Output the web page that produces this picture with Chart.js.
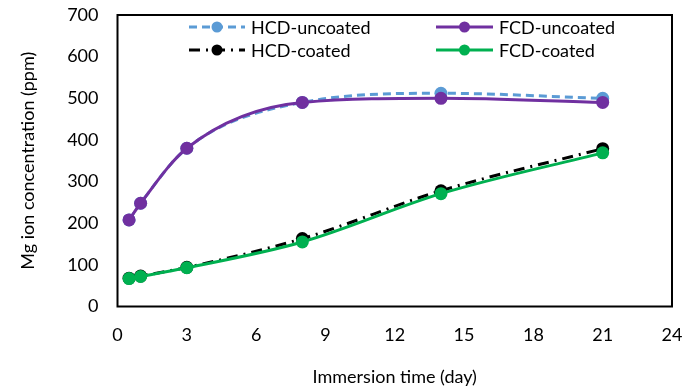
<!DOCTYPE html>
<html>
<head>
<meta charset="utf-8">
<script src="https://cdn.jsdelivr.net/npm/chart.js@4"></script>
<style>
  html, body { margin: 0; padding: 0; background: #fff; }
  #wrap { width: 685px; height: 388px; }
</style>
</head>
<body>
<div id="wrap"><canvas id="grafico" width="685" height="388"></canvas></div>
<script>
// values
const days = [0.5, 1, 3, 8, 14, 21];
const hcdUncoated = [208, 248, 380, 490, 512, 500];
const fcdUncoated = [208, 248, 380, 490, 500, 490];
const hcdCoated = [68, 73, 94, 163, 278, 379];
const fcdCoated = [67, 72, 93, 155, 271, 369];
const xTicks = [0, 3, 6, 9, 12, 15, 18, 21, 24];
const yTicks = [0, 100, 200, 300, 400, 500, 600, 700];

const fonte = 'Lato, "Open Sans", sans-serif';

const pontos = (ys) => days.map((d, i) => ({ x: d, y: ys[i] }));

const serie = (label, ys, cor, dash, ordem) => ({
  label: label,
  data: pontos(ys),
  borderColor: cor,
  backgroundColor: cor,
  borderWidth: 3,
  borderDash: dash,
  pointRadius: 6.5,
  pointHoverRadius: 6.5,
  pointBorderWidth: 0,
  pointBackgroundColor: cor,
  cubicInterpolationMode: 'monotone',
  order: ordem
});

const datasets = [
  serie('HCD-uncoated', hcdUncoated, '#5B9BD5', [8, 5], 1),
  serie('FCD-uncoated', fcdUncoated, '#7030A0', [], 0),
  serie('HCD-coated', hcdCoated, '#000000', [11, 6, 2, 6], 1),
  serie('FCD-coated', fcdCoated, '#00B050', [], 0)
];

// legend in two columns inside the plot, plus the frame
const legendaBox = {
  id: 'legendaBox',
  beforeDatasetsDraw(chart) {
    const { ctx, chartArea } = chart;
    ctx.save();
    ctx.strokeStyle = '#000';
    ctx.lineWidth = 2;
    ctx.strokeRect(chartArea.left, chartArea.top, chartArea.right - chartArea.left, chartArea.bottom - chartArea.top);
    ctx.restore();
  },
  afterDraw(chart) {
    const { ctx } = chart;
    const posicoes = [
      { x0: 189, x1: 245, y: 27 },
      { x0: 436, x1: 493, y: 27 },
      { x0: 189, x1: 245, y: 50 },
      { x0: 436, x1: 493, y: 50 }
    ];
    chart.data.datasets.forEach((ds, i) => {
      const p = posicoes[i];
      ctx.save();
      ctx.strokeStyle = ds.borderColor;
      ctx.lineWidth = ds.borderWidth;
      ctx.setLineDash(ds.borderDash);
      ctx.beginPath();
      ctx.moveTo(p.x0, p.y);
      ctx.lineTo(p.x1, p.y);
      ctx.stroke();
      ctx.restore();

      ctx.save();
      ctx.fillStyle = ds.pointBackgroundColor;
      ctx.beginPath();
      ctx.arc((p.x0 + p.x1) / 2, p.y, 5.5, 0, Math.PI * 2);
      ctx.closePath();
      ctx.fill();
      ctx.restore();

      ctx.save();
      ctx.fillStyle = '#000';
      ctx.font = '18px ' + fonte;
      ctx.textAlign = 'left';
      ctx.textBaseline = 'middle';
      ctx.fillText(ds.label, p.x1 + 6, p.y + 1);
      ctx.restore();
    });
  }
};

const ctx = document.getElementById('grafico').getContext('2d');
new Chart(ctx, {
  type: 'line',
  data: { datasets: datasets },
  options: {
    responsive: false,
    animation: false,
    layout: { padding: { top: 15, right: 13, left: 0, bottom: 0 } },
    plugins: { legend: { display: false }, tooltip: { enabled: false } },
    scales: {
      x: {
        type: 'linear',
        min: 0,
        max: 24,
        afterBuildTicks: (s) => { s.ticks = xTicks.map(v => ({ value: v })); },
        afterFit: (s) => { s.height = 81.5; s.paddingLeft = 0; s.paddingRight = 0; },
        grid: { display: false, drawTicks: false },
        border: { display: false },
        ticks: { color: '#000', padding: 18, font: { family: fonte, size: 18 } },
        title: {
          display: true,
          text: 'Immersion time (day)',
          color: '#000',
          font: { family: fonte, size: 18 },
          padding: { top: 0, bottom: 0 }
        }
      },
      y: {
        min: 0,
        max: 700,
        afterBuildTicks: (s) => { s.ticks = yTicks.map(v => ({ value: v })); },
        afterFit: (s) => { s.width = 117.5; s.paddingTop = 0; s.paddingBottom = 0; },
        grid: { display: false, drawTicks: false },
        border: { display: false },
        ticks: { color: '#000', padding: 19, font: { family: fonte, size: 18 } },
        title: {
          display: true,
          text: 'Mg ion concentration (ppm)',
          color: '#000',
          font: { family: fonte, size: 18 },
          padding: { top: 17, bottom: 0 }
        }
      }
    }
  },
  plugins: [legendaBox]
});
</script>
</body>
</html>
